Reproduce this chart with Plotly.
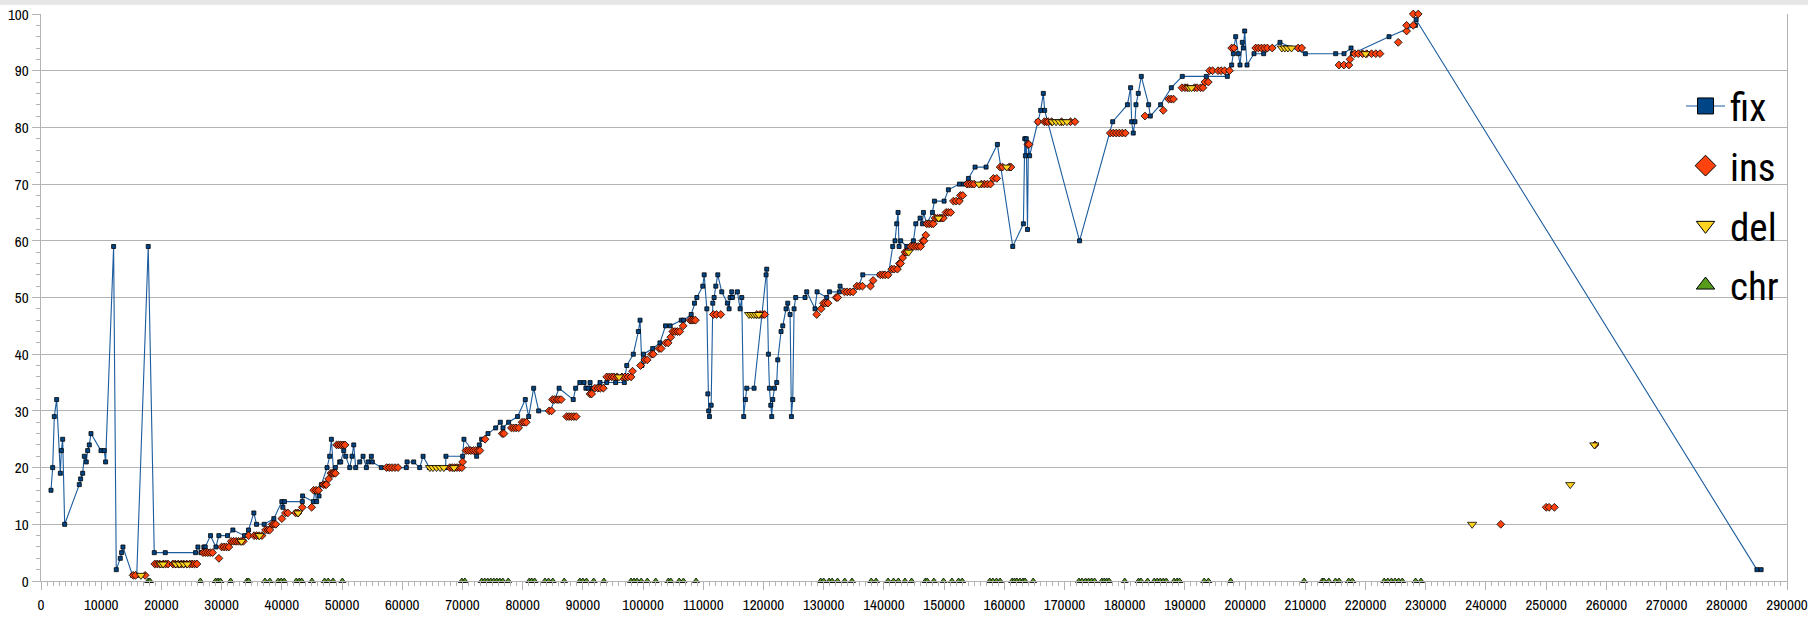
import plotly.graph_objects as go

# ---------------- data ----------------
fix_x = [
    1660, 1940, 2210, 2600, 3210, 3380, 3600, 3930, 6360, 6580,
    6920, 7190, 7520, 7750, 8020, 8300, 9960, 10510, 10730, 12060,
    12500, 13170, 13390, 13610, 15210, 15900, 17810, 18810, 20640, 25670,
    26060, 26560, 27050, 27280, 28160, 29050, 29540, 30980, 31870, 33800,
    34470, 35350, 35800, 37070, 38670, 40000, 40170, 40440, 43400, 43450,
    45230, 45500, 45780, 46180, 46570, 47510, 47950, 48230, 48610, 48890,
    49610, 49780, 50280, 50610, 51280, 51660, 51940, 52270, 52940, 53490,
    54040, 54320, 54870, 55030, 56530, 60680, 60800, 61900, 62900, 63460,
    64500, 67200, 67260, 70030, 70250, 72350, 72800, 73190, 74240, 75520,
    76290, 76730, 77670, 79160, 80440, 81000, 81830, 82660, 84600, 86050,
    88400, 88800, 89500, 90200, 90500, 90900, 91200, 91600, 92850, 93960,
    95450, 96890, 97290, 98380, 99220, 99500, 99800, 100060, 101600, 102800,
    103730, 104500, 106340, 106720, 107990, 108540, 108930, 109920, 110150, 110590,
    110760, 110900, 111030, 111310, 111580, 111800, 112080, 112410, 113070, 114010,
    114290, 114460, 114730, 114840, 115670, 116120, 116390, 116720, 117000, 117220,
    118440, 120430, 120540, 120820, 120990, 121210, 121370, 121540, 121820, 122200,
    122370, 122920, 123200, 123750, 124030, 124420, 124640, 124860, 125080, 125350,
    126900, 127180, 128560, 128900, 130500, 130950, 132610, 132720, 133830, 134380,
    135820, 136490, 139250, 140750, 141460, 141850, 142130, 142350, 142520, 142790,
    143800, 144900, 145300, 146010, 146400, 146570, 147120, 148060, 148390, 150000,
    150710, 152540, 153210, 154040, 155140, 156970, 158850, 161400, 163170, 163400,
    163500, 163650, 163850, 164000, 164200, 165540, 166040, 166480, 166700, 172500,
    178000, 180450, 180980, 181150, 181420, 181700, 181870, 182250, 182750, 183970,
    184250, 185960, 187740, 189560, 193550, 197040, 197760, 198040, 198200, 198430,
    198870, 199150, 199530, 199700, 199920, 200310, 201470, 203080, 205790, 210000,
    215040, 216420, 217590, 217810, 223900, 228280, 228400, 285000, 285700,
]
fix_y = [
    16, 20, 29, 32, 19, 23, 25, 10, 17, 18,
    19, 22, 21, 23, 24, 26, 23, 23, 21, 59,
    2, 4, 5, 6, 1, 1, 59, 5, 5, 5,
    6, 5, 6, 6, 8, 6, 8, 8, 9, 8,
    9, 12, 10, 10, 11, 14, 13, 14, 14, 15,
    14, 16, 14, 15, 17, 20, 22, 25, 19, 20,
    21, 21, 23, 22, 20, 22, 24, 20, 21, 22,
    20, 21, 22, 21, 20, 20, 21, 21, 20, 22,
    20, 20, 22, 22, 25, 22, 24, 25, 26, 27,
    28, 27, 28, 29, 32, 29, 34, 30, 30, 34,
    32, 34, 35, 35, 34, 34, 35, 34, 35, 35,
    35, 35, 38, 40, 44, 46, 38, 40, 41, 42,
    45, 45, 46, 46, 47, 49, 50, 52, 54, 48,
    33, 30, 29, 31, 49, 50, 52, 54, 51, 49,
    48, 50, 51, 50, 51, 48, 50, 29, 32, 34,
    34, 54, 55, 40, 34, 31, 29, 32, 34, 35,
    39, 44, 45, 48, 49, 47, 29, 32, 48, 50,
    50, 51, 48, 51, 50, 51, 51, 52, 51, 51,
    52, 54, 54, 54, 59, 60, 63, 65, 59, 60,
    59, 60, 63, 64, 63, 65, 63, 65, 67, 67,
    69, 70, 70, 71, 73, 73, 77, 59, 63, 78,
    75, 78, 62, 77, 75, 81, 83, 86, 83, 60,
    81, 84, 87, 81, 79, 81, 84, 86, 89, 84,
    82, 84, 87, 89, 89, 89, 91, 93, 94, 96,
    93, 91, 95, 94, 97, 91, 93, 93, 95, 93,
    93, 93, 94, 93, 96, 98, 99, 2, 2,
]

ins_x = [
    15300, 15700, 17300,
    18900, 19300, 19700, 20300, 20700, 21100, 21900, 22300, 22800, 23300,
    23700, 24200, 24700, 25100, 25500, 25900,
    26900, 27300, 27700, 28100, 28500, 29550,
    30000, 30400, 30800, 31200, 31600, 32000, 32400, 32800, 33200, 33600,
    34500, 35400, 35800, 36200, 36700, 37300, 37700, 38000, 38400, 38700,
    39000, 40000, 40600, 41000, 42300, 42700, 43400, 44950,
    45300, 45700, 46100, 46900, 47200, 47400, 47770,
    48150, 48400, 48650, 48900, 49100, 49450, 49800, 50150, 50500,
    57400, 57850, 58300, 58800, 59300,
    67900, 68300, 68700, 69100, 69500, 69900, 70030,
    70600, 71000, 71400, 71800, 72200, 72600, 72900, 73750,
    76600, 76900, 78130, 78500, 78900, 79330, 79900, 80250, 80600,
    84400, 84800, 84960, 85300, 85700, 86000, 86400,
    87300, 87700, 88100, 88500, 88900, 91190, 91470,
    92000, 92500, 92900, 93400,
    93960, 94400, 94800, 95200, 95700, 96500, 97000, 97500, 98000,
    98250, 99580, 100300, 100700, 101400, 101700, 102650, 103000, 103770, 104160,
    104600, 104930, 105300, 105700, 106100, 106660,
    107800, 108100, 108400, 108700, 111670, 112200, 112910,
    118900, 119400, 119900, 120200, 128840, 129570,
    129960, 130300, 130720, 132070, 132340,
    133450, 133900, 134400, 134870, 135500, 135950, 136440, 137770, 138210,
    139400, 139800, 140200, 140700, 141300, 141700, 142240, 142570, 142790, 143120,
    143510, 143800, 144450, 144850, 145300, 145700, 146120, 146450, 146670, 146950,
    147120, 147500, 147900, 148220, 148500, 148900, 149300, 149600, 149880,
    150320, 150700, 151100, 151540, 152000, 152540, 152710, 153100,
    153800, 154200, 154600, 155000, 156200, 156700, 157200, 157700, 158190, 158740,
    159300, 159700, 160800, 161100, 163900, 164100,
    165600, 166660, 167000, 167300, 167870, 169500, 171000, 171740,
    177600, 178100, 178600, 179100, 179600, 180100, 183360, 186400,
    187300, 187700, 188100, 189500, 190000, 190400, 191600, 192000, 192600, 193000,
    193330, 193880, 194100, 194600, 195500, 196000, 196600, 197400, 197760, 198150,
    201750, 202200, 202700, 203200, 203700, 204500, 208800, 209400,
    215590, 216400, 217240, 217420, 218200, 218800, 219500, 220200, 221000, 221700,
    222400, 225430, 226820, 226820, 227920, 228750, 227920,
    242460, 250000, 250480, 251370, 258100,
]
ins_y = [
    1, 1, 1,
    3, 3, 3, 3, 3, 3, 3, 3, 3, 3,
    3, 3, 3, 3, 3, 3,
    5, 5, 5, 5, 5, 4,
    6, 6, 6, 6, 7, 7, 7, 7, 7, 7,
    8, 8, 8, 8, 8, 9, 9, 9, 10, 10,
    10, 11, 12, 12, 12, 12, 13, 13,
    16, 16, 16, 17, 17, 17, 18,
    19, 19, 19, 19, 24, 24, 24, 24, 24,
    20, 20, 20, 20, 20,
    20, 20, 20, 20, 20, 20, 21,
    23, 23, 23, 23, 23, 23, 23, 25,
    26, 26, 27, 27, 27, 27, 28, 28, 28,
    30, 30, 32, 32, 32, 32, 32,
    29, 29, 29, 29, 29, 33, 33,
    34, 34, 34, 34,
    36, 36, 36, 36, 36, 36, 36, 36, 36,
    37, 38, 39, 39, 40, 40, 41, 41, 42, 42,
    43, 44, 44, 44, 44, 45,
    46, 46, 46, 46, 47, 47, 47,
    47, 47, 47, 47, 47, 48,
    49, 49, 49, 50, 50,
    51, 51, 51, 51, 52, 52, 52, 52, 53,
    54, 54, 54, 54, 55, 55, 55, 56, 56, 57,
    58, 58, 59, 59, 59, 59, 59, 60, 60, 61,
    63, 63, 63, 63, 64, 64, 64, 64, 64,
    65, 65, 65, 67, 67, 67, 68, 68,
    70, 70, 70, 70, 70, 70, 70, 70, 71, 71,
    73, 73, 73, 73, 77, 77,
    81, 81, 81, 81, 81, 81, 81, 81,
    79, 79, 79, 79, 79, 79, 82, 83,
    85, 85, 85, 87, 87, 87, 87, 87, 87, 87,
    88, 88, 90, 90, 90, 90, 90, 90, 94, 94,
    94, 94, 94, 94, 94, 94, 94, 94,
    91, 91, 91, 92, 93, 93, 93, 93, 93, 93,
    93, 95, 97, 98, 100, 100, 98,
    10, 13, 13, 13, 24,
]

del_x = [
    16600, 19900, 20300, 22400, 23000, 23700, 24300, 33300, 36300, 42700,
    64600, 65100, 65700, 66300, 66900, 68600, 96000,
    117600, 118000, 118400, 118800, 119200, 144100, 149100, 155800, 160400,
    168000, 168600, 169200, 169800, 170400, 190700, 191100,
    206100, 206600, 207100, 207700, 220000, 237700, 254000, 258000,
]
del_y = [
    1, 3, 3, 3, 3, 3, 3, 7, 8, 12,
    20, 20, 20, 20, 20, 20, 36,
    47, 47, 47, 47, 47, 58, 64, 70, 73,
    81, 81, 81, 81, 81, 87, 87,
    94, 94, 94, 94, 93, 10, 17, 24,
]

chr_x = [
    17800, 18100, 26470, 29000, 29400, 29800, 31500, 34200, 34500, 37200,
    38000, 39400, 39900, 40400, 42400, 42900, 43300, 45000, 47100, 47700,
    48500, 50050, 69900, 70400, 73200, 73700, 74200, 74700, 75200, 75700,
    76200, 76700, 77600, 81100, 81500, 82000, 83700, 84300, 85000, 86900,
    89500, 90000, 90600, 91800, 93500, 98000, 98500, 99000, 99700, 100700,
    102100, 104200, 104600, 106000, 106700, 108800, 129500, 130000, 130900, 131400,
    132300, 133500, 134700, 137900, 138700, 140700, 141600, 142400, 143500, 144600,
    146900, 147200, 148300, 149900, 151300, 152400, 153000, 157600, 158100, 158700,
    159300, 161300, 161700, 162100, 162600, 163100, 163450, 164800, 172400, 172900,
    173500, 174000, 174500, 175000, 176200, 176600, 177000, 177400, 180000, 182300,
    182700, 183800, 184900, 185400, 185900, 186400, 186900, 188200, 188700, 189100,
    193200, 193900, 197600, 209800, 212800, 213100, 213900, 215000, 215600, 217200,
    217800, 223100, 223700, 224300, 224900, 225500, 226100, 228300, 229200,
]
chr_y = [
    0, 0, 0, 0, 0, 0, 0, 0, 0, 0,
    0, 0, 0, 0, 0, 0, 0, 0, 0, 0,
    0, 0, 0, 0, 0, 0, 0, 0, 0, 0,
    0, 0, 0, 0, 0, 0, 0, 0, 0, 0,
    0, 0, 0, 0, 0, 0, 0, 0, 0, 0,
    0, 0, 0, 0, 0, 0, 0, 0, 0, 0,
    0, 0, 0, 0, 0, 0, 0, 0, 0, 0,
    0, 0, 0, 0, 0, 0, 0, 0, 0, 0,
    0, 0, 0, 0, 0, 0, 0, 0, 0, 0,
    0, 0, 0, 0, 0, 0, 0, 0, 0, 0,
    0, 0, 0, 0, 0, 0, 0, 0, 0, 0,
    0, 0, 0, 0, 0, 0, 0, 0, 0, 0,
    0, 0, 0, 0, 0, 0, 0, 0, 0,
]

x_range = [0, 290000]
y_range = [0, 100]

# ---------------- styling ----------------
TICK_FONT = "Pragati Narrow, Roboto Condensed, Liberation Sans, Arial, sans-serif"
LEGEND_FONT = "Roboto Condensed, Liberation Sans, Arial, sans-serif"
GRID = "#b3b3b3"
OUTLINE = dict(color="#000000", width=0.8)
series = [
    # name, x, y, mode, symbol, size, colour
    ("fix", fix_x, fix_y, "lines+markers", "square", 4, "#004586"),
    ("ins", ins_x, ins_y, "markers", "diamond", 6, "#ff420e"),
    ("del", del_x, del_y, "markers", "triangle-down", 8, "#ffd320"),
    ("chr", chr_x, chr_y, "markers", "triangle-up", 6, "#579d1c"),
]

fig = go.Figure()
for name, xs, ys, mode, sym, size, col in series:
    fig.add_trace(go.Scatter(
        x=xs, y=ys, name=name, mode=mode, legendgroup=name, showlegend=False,
        line=dict(color="#1b5c9e", width=1.1),
        marker=dict(symbol=sym, size=size, color=col, line=OUTLINE),
        cliponaxis=False,
    ))
# legend keys (bigger symbols than on the chart, as in the reference)
for name, xs, ys, mode, sym, size, col in series:
    fig.add_trace(go.Scatter(
        x=[None], y=[None], name=name, mode=mode, legendgroup=name, showlegend=True,
        line=dict(color="#1b5c9e", width=1.1),
        marker=dict(symbol=sym, size=16, color=col, line=dict(color="#000000", width=1)),
    ))

fig.update_layout(
    width=1808, height=620,
    margin=dict(l=41, r=21, t=14, b=39, pad=0, autoexpand=False),
    paper_bgcolor="white", plot_bgcolor="white",
    font=dict(family=TICK_FONT, size=16.5, color="#000000"),
    showlegend=True,
    legend=dict(
        x=0.9393, y=0.894, xanchor="left", yanchor="top",
        bgcolor="rgba(0,0,0,0)", borderwidth=0,
        font=dict(family=LEGEND_FONT, size=39, color="#000000"),
        itemwidth=39, traceorder="grouped", tracegroupgap=6,
    ),
    xaxis=dict(
        range=x_range, tick0=0, dtick=10000, tickformat="d", automargin=False,
        showgrid=False, zeroline=False,
        showline=True, linecolor=GRID, linewidth=1,
        ticks="outside", ticklen=8, tickcolor=GRID, tickwidth=1,
        minor=dict(dtick=1000, ticklen=4, ticks="outside", tickcolor=GRID, showgrid=False),
        tickfont=dict(family=TICK_FONT, size=16.5, color="#000000"),
    ),
    yaxis=dict(
        range=y_range, tick0=0, dtick=10, automargin=False,
        showgrid=True, gridcolor=GRID, gridwidth=1, zeroline=False,
        showline=True, mirror=True, linecolor=GRID, linewidth=1,
        ticks="outside", ticklen=8, tickcolor=GRID, tickwidth=1,
        minor=dict(dtick=2, ticklen=4, ticks="outside", tickcolor=GRID, showgrid=False),
        tickfont=dict(family=TICK_FONT, size=16.5, color="#000000"),
    ),
    shapes=[dict(type="rect", xref="paper", yref="paper",
                 x0=-0.03, x1=1.02, y0=1.0162, y1=1.03,
                 fillcolor="#e6e6e6", line=dict(width=0), layer="below")],
)

fig.write_html("out.html", config={"displayModeBar": False},
               post_script="document.body.style.margin='0px';")
